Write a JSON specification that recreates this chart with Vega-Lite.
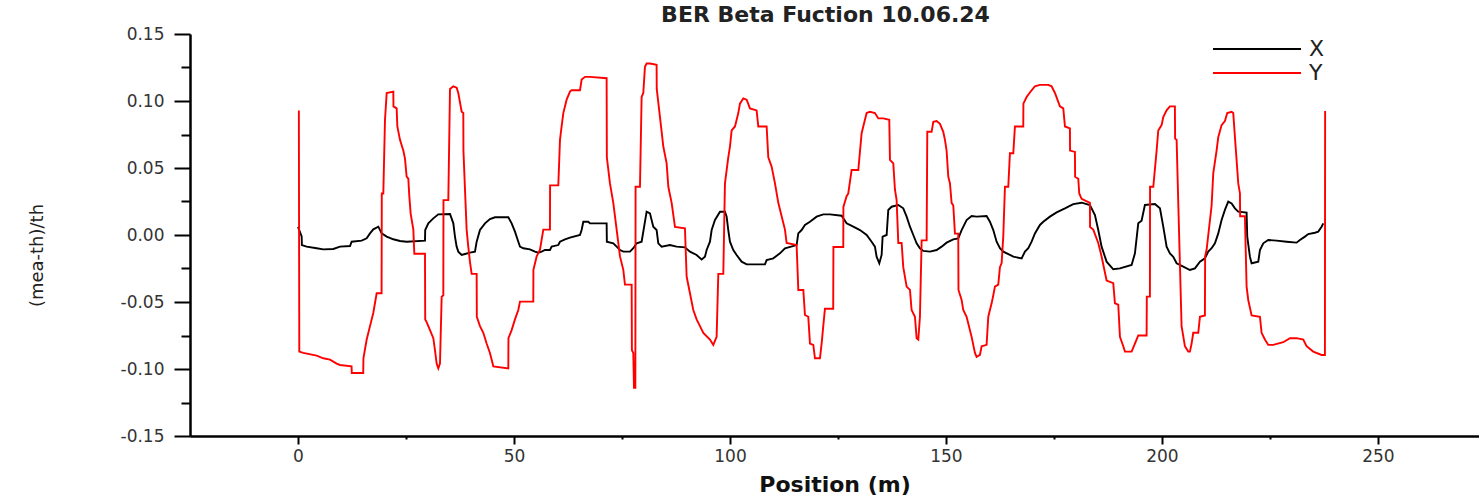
{
"$schema": "https://vega.github.io/schema/vega-lite/v6.json",
"width": 1289, "height": 402,
"autosize": {"type": "none"},
"padding": {"left": 190, "top": 34, "right": 0, "bottom": 59},
"background": "white",
"config": {"view": {"stroke": null}, "font": "DejaVu Sans"},
"title": {"text": "BER Beta Fuction 10.06.24", "fontSize": 22, "fontWeight": "bold", "font": "DejaVu Sans", "color": "#222", "anchor": "middle", "frame": "group", "offset": 8, "dx": -9, "dy": 10},
"data": {"values": [
{"s":"X","x":0.0,"y":0.006},{"s":"X","x":0.85,"y":-0.001},{"s":"X","x":0.9,"y":-0.0075},{"s":"X","x":2.0,"y":-0.0087},{"s":"X","x":4.32,"y":-0.0099},{"s":"X","x":5.86,"y":-0.0107},{"s":"X","x":8.18,"y":-0.0104},{"s":"X","x":9.72,"y":-0.0087},{"s":"X","x":12.04,"y":-0.0082},{"s":"X","x":12.42,"y":-0.005},{"s":"X","x":14.74,"y":-0.0042},{"s":"X","x":15.9,"y":-0.0025},{"s":"X","x":16.67,"y":0.0012},{"s":"X","x":17.44,"y":0.0042},{"s":"X","x":18.6,"y":0.0062},{"s":"X","x":19.37,"y":0.0012},{"s":"X","x":20.53,"y":-0.0012},{"s":"X","x":22.07,"y":-0.0032},{"s":"X","x":23.61,"y":-0.0045},{"s":"X","x":25.15,"y":-0.005},{"s":"X","x":29.4,"y":-0.0042},{"s":"X","x":29.45,"y":0.0037},{"s":"X","x":30.17,"y":0.0087},{"s":"X","x":31.33,"y":0.0124},{"s":"X","x":32.48,"y":0.0154},{"s":"X","x":35.19,"y":0.0157},{"s":"X","x":35.96,"y":0.0087},{"s":"X","x":36.34,"y":-0.0012},{"s":"X","x":36.73,"y":-0.0087},{"s":"X","x":37.11,"y":-0.0124},{"s":"X","x":37.89,"y":-0.0149},{"s":"X","x":38.66,"y":-0.0142},{"s":"X","x":39.81,"y":-0.0132},{"s":"X","x":40.97,"y":-0.0124},{"s":"X","x":41.36,"y":-0.005},{"s":"X","x":42.13,"y":0.0037},{"s":"X","x":43.29,"y":0.0087},{"s":"X","x":44.44,"y":0.0119},{"s":"X","x":45.6,"y":0.0132},{"s":"X","x":48.69,"y":0.0132},{"s":"X","x":49.46,"y":0.0087},{"s":"X","x":50.23,"y":0.0025},{"s":"X","x":51.0,"y":-0.005},{"s":"X","x":51.39,"y":-0.0087},{"s":"X","x":52.16,"y":-0.0099},{"s":"X","x":53.7,"y":-0.0107},{"s":"X","x":54.86,"y":-0.0124},{"s":"X","x":55.63,"y":-0.0132},{"s":"X","x":56.4,"y":-0.0124},{"s":"X","x":57.18,"y":-0.0112},{"s":"X","x":58.33,"y":-0.0112},{"s":"X","x":58.72,"y":-0.0087},{"s":"X","x":60.26,"y":-0.0075},{"s":"X","x":60.65,"y":-0.005},{"s":"X","x":61.81,"y":-0.0032},{"s":"X","x":62.96,"y":-0.002},{"s":"X","x":65.28,"y":0.0},{"s":"X","x":65.66,"y":0.0037},{"s":"X","x":66.05,"y":0.0099},{"s":"X","x":67.21,"y":0.0099},{"s":"X","x":67.59,"y":0.0087},{"s":"X","x":71.45,"y":0.0087},{"s":"X","x":71.5,"y":-0.005},{"s":"X","x":72.99,"y":-0.0062},{"s":"X","x":73.77,"y":-0.0087},{"s":"X","x":74.54,"y":-0.0112},{"s":"X","x":75.31,"y":-0.0124},{"s":"X","x":76.85,"y":-0.0124},{"s":"X","x":77.62,"y":-0.0099},{"s":"X","x":78.4,"y":-0.0062},{"s":"X","x":79.55,"y":-0.005},{"s":"X","x":79.94,"y":0.0025},{"s":"X","x":80.71,"y":0.0174},{"s":"X","x":81.48,"y":0.0162},{"s":"X","x":82.25,"y":0.0062},{"s":"X","x":83.02,"y":0.0037},{"s":"X","x":83.41,"y":-0.0062},{"s":"X","x":84.18,"y":-0.0087},{"s":"X","x":86.11,"y":-0.0075},{"s":"X","x":87.65,"y":-0.0087},{"s":"X","x":89.58,"y":-0.0092},{"s":"X","x":90.74,"y":-0.0124},{"s":"X","x":92.28,"y":-0.0149},{"s":"X","x":93.44,"y":-0.0182},{"s":"X","x":94.21,"y":-0.0162},{"s":"X","x":94.6,"y":-0.0112},{"s":"X","x":95.37,"y":-0.005},{"s":"X","x":95.76,"y":0.0037},{"s":"X","x":96.53,"y":0.0112},{"s":"X","x":97.69,"y":0.0174},{"s":"X","x":98.84,"y":0.0174},{"s":"X","x":99.23,"y":0.0137},{"s":"X","x":99.61,"y":0.0037},{"s":"X","x":100.0,"y":-0.005},{"s":"X","x":100.77,"y":-0.0112},{"s":"X","x":101.54,"y":-0.0149},{"s":"X","x":102.7,"y":-0.0199},{"s":"X","x":103.86,"y":-0.0219},{"s":"X","x":108.1,"y":-0.0219},{"s":"X","x":108.49,"y":-0.0187},{"s":"X","x":110.03,"y":-0.0174},{"s":"X","x":111.57,"y":-0.0137},{"s":"X","x":112.73,"y":-0.0099},{"s":"X","x":115.43,"y":-0.0075},{"s":"X","x":115.82,"y":0.0012},{"s":"X","x":116.59,"y":0.0037},{"s":"X","x":117.36,"y":0.0075},{"s":"X","x":118.52,"y":0.0099},{"s":"X","x":120.06,"y":0.0137},{"s":"X","x":121.6,"y":0.0154},{"s":"X","x":123.15,"y":0.0154},{"s":"X","x":125.85,"y":0.0144},{"s":"X","x":127.0,"y":0.0087},{"s":"X","x":128.55,"y":0.0062},{"s":"X","x":130.09,"y":0.0037},{"s":"X","x":131.64,"y":0.0},{"s":"X","x":132.79,"y":-0.005},{"s":"X","x":133.56,"y":-0.0087},{"s":"X","x":133.95,"y":-0.0162},{"s":"X","x":134.57,"y":-0.0211},{"s":"X","x":135.11,"y":-0.0149},{"s":"X","x":135.34,"y":-0.0012},{"s":"X","x":136.27,"y":0.0},{"s":"X","x":136.65,"y":0.0187},{"s":"X","x":137.42,"y":0.0211},{"s":"X","x":138.97,"y":0.0224},{"s":"X","x":140.12,"y":0.0199},{"s":"X","x":140.9,"y":0.0137},{"s":"X","x":141.67,"y":0.0062},{"s":"X","x":142.44,"y":0.0},{"s":"X","x":143.21,"y":-0.0062},{"s":"X","x":143.98,"y":-0.0099},{"s":"X","x":144.75,"y":-0.0119},{"s":"X","x":146.3,"y":-0.0124},{"s":"X","x":147.84,"y":-0.0112},{"s":"X","x":149.0,"y":-0.0087},{"s":"X","x":150.15,"y":-0.0057},{"s":"X","x":151.7,"y":-0.0032},{"s":"X","x":152.85,"y":-0.0025},{"s":"X","x":153.63,"y":0.0037},{"s":"X","x":154.78,"y":0.0112},{"s":"X","x":155.94,"y":0.0142},{"s":"X","x":157.1,"y":0.0137},{"s":"X","x":159.41,"y":0.0142},{"s":"X","x":160.18,"y":0.0099},{"s":"X","x":160.96,"y":0.0037},{"s":"X","x":161.73,"y":-0.005},{"s":"X","x":162.5,"y":-0.0099},{"s":"X","x":163.27,"y":-0.0124},{"s":"X","x":164.81,"y":-0.0149},{"s":"X","x":165.59,"y":-0.0162},{"s":"X","x":167.52,"y":-0.0174},{"s":"X","x":168.29,"y":-0.0124},{"s":"X","x":169.06,"y":-0.0099},{"s":"X","x":169.83,"y":-0.005},{"s":"X","x":170.6,"y":0.0012},{"s":"X","x":171.76,"y":0.0075},{"s":"X","x":172.53,"y":0.0099},{"s":"X","x":174.07,"y":0.0137},{"s":"X","x":175.62,"y":0.0169},{"s":"X","x":177.55,"y":0.0199},{"s":"X","x":179.47,"y":0.0231},{"s":"X","x":181.4,"y":0.0241},{"s":"X","x":183.33,"y":0.0224},{"s":"X","x":184.49,"y":0.0149},{"s":"X","x":185.26,"y":0.0037},{"s":"X","x":186.03,"y":-0.0087},{"s":"X","x":187.19,"y":-0.0199},{"s":"X","x":188.73,"y":-0.0256},{"s":"X","x":190.28,"y":-0.0249},{"s":"X","x":192.98,"y":-0.0224},{"s":"X","x":193.75,"y":-0.0137},{"s":"X","x":194.52,"y":0.0087},{"s":"X","x":195.29,"y":0.0107},{"s":"X","x":196.06,"y":0.0224},{"s":"X","x":198.38,"y":0.0231},{"s":"X","x":199.54,"y":0.0199},{"s":"X","x":200.31,"y":0.0062},{"s":"X","x":201.08,"y":-0.0087},{"s":"X","x":201.85,"y":-0.0137},{"s":"X","x":202.62,"y":-0.0162},{"s":"X","x":203.4,"y":-0.0211},{"s":"X","x":204.94,"y":-0.0236},{"s":"X","x":206.48,"y":-0.0261},{"s":"X","x":207.64,"y":-0.0249},{"s":"X","x":208.8,"y":-0.0199},{"s":"X","x":209.95,"y":-0.0174},{"s":"X","x":210.72,"y":-0.0124},{"s":"X","x":211.5,"y":-0.0099},{"s":"X","x":212.27,"y":-0.0062},{"s":"X","x":213.04,"y":0.0012},{"s":"X","x":213.81,"y":0.0112},{"s":"X","x":214.58,"y":0.0187},{"s":"X","x":215.35,"y":0.0249},{"s":"X","x":216.13,"y":0.0236},{"s":"X","x":216.9,"y":0.0199},{"s":"X","x":217.67,"y":0.0174},{"s":"X","x":219.6,"y":0.0167},{"s":"X","x":219.75,"y":-0.0012},{"s":"X","x":220.37,"y":-0.0162},{"s":"X","x":220.76,"y":-0.0211},{"s":"X","x":222.3,"y":-0.0199},{"s":"X","x":222.69,"y":-0.0112},{"s":"X","x":223.46,"y":-0.0062},{"s":"X","x":224.61,"y":-0.0037},{"s":"X","x":226.54,"y":-0.0042},{"s":"X","x":228.86,"y":-0.005},{"s":"X","x":231.17,"y":-0.0057},{"s":"X","x":231.94,"y":-0.0037},{"s":"X","x":233.1,"y":-0.0012},{"s":"X","x":233.87,"y":0.0007},{"s":"X","x":235.42,"y":0.0017},{"s":"X","x":236.19,"y":0.0025},{"s":"X","x":236.96,"y":0.0062},{"s":"X","x":237.35,"y":0.0087},
{"s":"Y","x":0.2,"y":0.093},{"s":"Y","x":0.3,"y":-0.087},{"s":"Y","x":1.23,"y":-0.088},{"s":"Y","x":4.32,"y":-0.09},{"s":"Y","x":5.86,"y":-0.092},{"s":"Y","x":7.41,"y":-0.093},{"s":"Y","x":8.95,"y":-0.096},{"s":"Y","x":9.72,"y":-0.097},{"s":"Y","x":12.4,"y":-0.098},{"s":"Y","x":12.45,"y":-0.103},{"s":"Y","x":15.1,"y":-0.103},{"s":"Y","x":15.15,"y":-0.092},{"s":"Y","x":15.9,"y":-0.078},{"s":"Y","x":16.67,"y":-0.068},{"s":"Y","x":17.44,"y":-0.058},{"s":"Y","x":18.21,"y":-0.0435},{"s":"Y","x":19.35,"y":-0.0435},{"s":"Y","x":19.4,"y":0.031},{"s":"Y","x":19.75,"y":0.031},{"s":"Y","x":20.14,"y":0.086},{"s":"Y","x":20.53,"y":0.106},{"s":"Y","x":22.07,"y":0.107},{"s":"Y","x":22.1,"y":0.096},{"s":"Y","x":22.84,"y":0.0945},{"s":"Y","x":23.0,"y":0.081},{"s":"Y","x":23.61,"y":0.071},{"s":"Y","x":24.38,"y":0.063},{"s":"Y","x":24.77,"y":0.057},{"s":"Y","x":25.15,"y":0.0435},{"s":"Y","x":25.54,"y":0.042},{"s":"Y","x":25.77,"y":0.029},{"s":"Y","x":26.08,"y":0.016},{"s":"Y","x":26.7,"y":0.004},{"s":"Y","x":26.93,"y":-0.014},{"s":"Y","x":29.4,"y":-0.014},{"s":"Y","x":29.45,"y":-0.063},{"s":"Y","x":29.78,"y":-0.065},{"s":"Y","x":30.56,"y":-0.071},{"s":"Y","x":31.33,"y":-0.077},{"s":"Y","x":31.71,"y":-0.086},{"s":"Y","x":32.1,"y":-0.096},{"s":"Y","x":32.48,"y":-0.0995},{"s":"Y","x":32.87,"y":-0.096},{"s":"Y","x":33.26,"y":-0.046},{"s":"Y","x":33.64,"y":-0.045},{"s":"Y","x":33.68,"y":0.026},{"s":"Y","x":34.8,"y":0.026},{"s":"Y","x":35.19,"y":0.109},{"s":"Y","x":35.96,"y":0.111},{"s":"Y","x":36.73,"y":0.11},{"s":"Y","x":37.11,"y":0.106},{"s":"Y","x":37.89,"y":0.092},{"s":"Y","x":38.27,"y":0.091},{"s":"Y","x":38.3,"y":0.063},{"s":"Y","x":38.66,"y":0.034},{"s":"Y","x":39.04,"y":0.004},{"s":"Y","x":39.43,"y":-0.009},{"s":"Y","x":39.81,"y":-0.02},{"s":"Y","x":40.2,"y":-0.029},{"s":"Y","x":41.36,"y":-0.029},{"s":"Y","x":41.4,"y":-0.061},{"s":"Y","x":42.13,"y":-0.068},{"s":"Y","x":42.9,"y":-0.073},{"s":"Y","x":43.67,"y":-0.081},{"s":"Y","x":44.44,"y":-0.088},{"s":"Y","x":45.22,"y":-0.098},{"s":"Y","x":48.69,"y":-0.0995},{"s":"Y","x":48.72,"y":-0.077},{"s":"Y","x":49.46,"y":-0.071},{"s":"Y","x":50.23,"y":-0.063},{"s":"Y","x":51.0,"y":-0.056},{"s":"Y","x":51.39,"y":-0.0497},{"s":"Y","x":54.47,"y":-0.0497},{"s":"Y","x":54.5,"y":-0.026},{"s":"Y","x":55.25,"y":-0.016},{"s":"Y","x":56.02,"y":-0.011},{"s":"Y","x":56.79,"y":0.004},{"s":"Y","x":58.33,"y":0.004},{"s":"Y","x":58.36,"y":0.037},{"s":"Y","x":60.26,"y":0.037},{"s":"Y","x":60.65,"y":0.071},{"s":"Y","x":61.03,"y":0.081},{"s":"Y","x":61.42,"y":0.091},{"s":"Y","x":62.19,"y":0.101},{"s":"Y","x":62.96,"y":0.107},{"s":"Y","x":63.35,"y":0.108},{"s":"Y","x":65.28,"y":0.108},{"s":"Y","x":65.66,"y":0.116},{"s":"Y","x":66.44,"y":0.118},{"s":"Y","x":67.59,"y":0.118},{"s":"Y","x":71.45,"y":0.117},{"s":"Y","x":71.5,"y":0.058},{"s":"Y","x":72.22,"y":0.0385},{"s":"Y","x":72.99,"y":0.024},{"s":"Y","x":73.77,"y":0.004},{"s":"Y","x":74.54,"y":-0.016},{"s":"Y","x":75.31,"y":-0.026},{"s":"Y","x":75.69,"y":-0.037},{"s":"Y","x":77.24,"y":-0.037},{"s":"Y","x":77.3,"y":-0.086},{"s":"Y","x":77.62,"y":-0.088},{"s":"Y","x":77.78,"y":-0.114},{"s":"Y","x":78.1,"y":-0.114},{"s":"Y","x":78.15,"y":0.036},{"s":"Y","x":79.17,"y":0.036},{"s":"Y","x":79.55,"y":0.103},{"s":"Y","x":79.94,"y":0.106},{"s":"Y","x":80.32,"y":0.1256},{"s":"Y","x":80.71,"y":0.128},{"s":"Y","x":81.48,"y":0.128},{"s":"Y","x":83.02,"y":0.127},{"s":"Y","x":83.05,"y":0.109},{"s":"Y","x":83.8,"y":0.088},{"s":"Y","x":84.57,"y":0.066},{"s":"Y","x":85.34,"y":0.0535},{"s":"Y","x":85.73,"y":0.036},{"s":"Y","x":86.5,"y":0.024},{"s":"Y","x":87.27,"y":0.006},{"s":"Y","x":89.58,"y":0.005},{"s":"Y","x":89.97,"y":-0.031},{"s":"Y","x":90.74,"y":-0.0435},{"s":"Y","x":91.51,"y":-0.056},{"s":"Y","x":92.28,"y":-0.063},{"s":"Y","x":93.06,"y":-0.068},{"s":"Y","x":93.83,"y":-0.073},{"s":"Y","x":95.37,"y":-0.078},{"s":"Y","x":96.14,"y":-0.082},{"s":"Y","x":96.91,"y":-0.076},{"s":"Y","x":97.3,"y":-0.029},{"s":"Y","x":98.46,"y":-0.029},{"s":"Y","x":98.84,"y":0.0385},{"s":"Y","x":99.61,"y":0.058},{"s":"Y","x":100.0,"y":0.066},{"s":"Y","x":100.39,"y":0.078},{"s":"Y","x":101.16,"y":0.081},{"s":"Y","x":101.93,"y":0.091},{"s":"Y","x":102.31,"y":0.098},{"s":"Y","x":103.09,"y":0.102},{"s":"Y","x":103.86,"y":0.101},{"s":"Y","x":104.63,"y":0.0945},{"s":"Y","x":106.17,"y":0.093},{"s":"Y","x":106.56,"y":0.081},{"s":"Y","x":108.49,"y":0.081},{"s":"Y","x":108.87,"y":0.058},{"s":"Y","x":109.65,"y":0.051},{"s":"Y","x":110.42,"y":0.0385},{"s":"Y","x":111.19,"y":0.024},{"s":"Y","x":111.96,"y":0.014},{"s":"Y","x":112.73,"y":0.004},{"s":"Y","x":113.12,"y":-0.006},{"s":"Y","x":115.43,"y":-0.0075},{"s":"Y","x":115.82,"y":-0.041},{"s":"Y","x":116.98,"y":-0.041},{"s":"Y","x":117.36,"y":-0.0597},{"s":"Y","x":118.13,"y":-0.061},{"s":"Y","x":118.52,"y":-0.081},{"s":"Y","x":119.29,"y":-0.082},{"s":"Y","x":119.68,"y":-0.092},{"s":"Y","x":120.83,"y":-0.092},{"s":"Y","x":121.22,"y":-0.081},{"s":"Y","x":121.6,"y":-0.068},{"s":"Y","x":121.99,"y":-0.055},{"s":"Y","x":123.9,"y":-0.055},{"s":"Y","x":123.95,"y":-0.009},{"s":"Y","x":126.23,"y":-0.009},{"s":"Y","x":126.26,"y":0.021},{"s":"Y","x":127.0,"y":0.029},{"s":"Y","x":127.39,"y":0.031},{"s":"Y","x":128.16,"y":0.0485},{"s":"Y","x":129.71,"y":0.0485},{"s":"Y","x":130.48,"y":0.076},{"s":"Y","x":130.86,"y":0.081},{"s":"Y","x":131.64,"y":0.091},{"s":"Y","x":132.41,"y":0.092},{"s":"Y","x":133.56,"y":0.091},{"s":"Y","x":134.34,"y":0.087},{"s":"Y","x":135.49,"y":0.087},{"s":"Y","x":136.88,"y":0.086},{"s":"Y","x":137.04,"y":0.056},{"s":"Y","x":137.81,"y":0.0535},{"s":"Y","x":138.19,"y":0.034},{"s":"Y","x":138.58,"y":0.026},{"s":"Y","x":138.97,"y":-0.006},{"s":"Y","x":139.74,"y":-0.006},{"s":"Y","x":140.12,"y":-0.024},{"s":"Y","x":140.9,"y":-0.0385},{"s":"Y","x":141.67,"y":-0.041},{"s":"Y","x":142.05,"y":-0.056},{"s":"Y","x":142.82,"y":-0.061},{"s":"Y","x":143.21,"y":-0.077},{"s":"Y","x":143.6,"y":-0.078},{"s":"Y","x":143.98,"y":-0.061},{"s":"Y","x":144.37,"y":-0.004},{"s":"Y","x":145.53,"y":-0.004},{"s":"Y","x":145.68,"y":0.077},{"s":"Y","x":146.68,"y":0.077},{"s":"Y","x":147.07,"y":0.0845},{"s":"Y","x":147.84,"y":0.085},{"s":"Y","x":148.61,"y":0.083},{"s":"Y","x":149.38,"y":0.077},{"s":"Y","x":149.77,"y":0.071},{"s":"Y","x":150.15,"y":0.063},{"s":"Y","x":150.54,"y":0.0435},{"s":"Y","x":150.93,"y":0.0385},{"s":"Y","x":151.31,"y":0.024},{"s":"Y","x":151.7,"y":0.022},{"s":"Y","x":152.08,"y":0.001},{"s":"Y","x":152.85,"y":0.001},{"s":"Y","x":152.9,"y":-0.041},{"s":"Y","x":153.63,"y":-0.0485},{"s":"Y","x":154.01,"y":-0.056},{"s":"Y","x":154.78,"y":-0.061},{"s":"Y","x":155.17,"y":-0.066},{"s":"Y","x":155.94,"y":-0.076},{"s":"Y","x":156.71,"y":-0.088},{"s":"Y","x":157.1,"y":-0.091},{"s":"Y","x":157.87,"y":-0.0895},{"s":"Y","x":158.26,"y":-0.083},{"s":"Y","x":159.41,"y":-0.082},{"s":"Y","x":159.8,"y":-0.061},{"s":"Y","x":160.57,"y":-0.051},{"s":"Y","x":160.96,"y":-0.045},{"s":"Y","x":161.34,"y":-0.0385},{"s":"Y","x":162.11,"y":-0.037},{"s":"Y","x":162.5,"y":-0.024},{"s":"Y","x":162.89,"y":-0.021},{"s":"Y","x":163.27,"y":-0.001},{"s":"Y","x":163.66,"y":0.036},{"s":"Y","x":164.43,"y":0.036},{"s":"Y","x":164.81,"y":0.061},{"s":"Y","x":165.59,"y":0.061},{"s":"Y","x":165.97,"y":0.081},{"s":"Y","x":167.9,"y":0.081},{"s":"Y","x":167.93,"y":0.098},{"s":"Y","x":168.67,"y":0.103},{"s":"Y","x":169.83,"y":0.108},{"s":"Y","x":170.6,"y":0.111},{"s":"Y","x":171.76,"y":0.112},{"s":"Y","x":173.69,"y":0.112},{"s":"Y","x":174.46,"y":0.111},{"s":"Y","x":175.23,"y":0.106},{"s":"Y","x":176.39,"y":0.096},{"s":"Y","x":177.16,"y":0.0945},{"s":"Y","x":177.55,"y":0.081},{"s":"Y","x":178.7,"y":0.0796},{"s":"Y","x":178.73,"y":0.063},{"s":"Y","x":179.86,"y":0.062},{"s":"Y","x":179.9,"y":0.0435},{"s":"Y","x":180.63,"y":0.042},{"s":"Y","x":180.86,"y":0.031},{"s":"Y","x":181.4,"y":0.027},{"s":"Y","x":183.33,"y":0.024},{"s":"Y","x":183.36,"y":0.006},{"s":"Y","x":184.1,"y":0.004},{"s":"Y","x":185.26,"y":-0.006},{"s":"Y","x":186.03,"y":-0.016},{"s":"Y","x":187.19,"y":-0.034},{"s":"Y","x":188.73,"y":-0.036},{"s":"Y","x":189.12,"y":-0.051},{"s":"Y","x":189.89,"y":-0.052},{"s":"Y","x":190.28,"y":-0.076},{"s":"Y","x":191.05,"y":-0.083},{"s":"Y","x":191.44,"y":-0.087},{"s":"Y","x":192.98,"y":-0.087},{"s":"Y","x":193.75,"y":-0.081},{"s":"Y","x":194.52,"y":-0.075},{"s":"Y","x":196.45,"y":-0.075},{"s":"Y","x":196.5,"y":-0.046},{"s":"Y","x":197.22,"y":-0.046},{"s":"Y","x":197.25,"y":0.036},{"s":"Y","x":198.0,"y":0.036},{"s":"Y","x":198.77,"y":0.063},{"s":"Y","x":199.15,"y":0.078},{"s":"Y","x":199.92,"y":0.082},{"s":"Y","x":200.31,"y":0.088},{"s":"Y","x":201.08,"y":0.093},{"s":"Y","x":201.85,"y":0.096},{"s":"Y","x":203.0,"y":0.096},{"s":"Y","x":203.05,"y":0.072},{"s":"Y","x":203.4,"y":0.071},{"s":"Y","x":203.78,"y":0.024},{"s":"Y","x":204.55,"y":-0.068},{"s":"Y","x":205.32,"y":-0.083},{"s":"Y","x":206.09,"y":-0.087},{"s":"Y","x":206.48,"y":-0.087},{"s":"Y","x":206.87,"y":-0.081},{"s":"Y","x":207.25,"y":-0.073},{"s":"Y","x":208.41,"y":-0.073},{"s":"Y","x":208.8,"y":-0.061},{"s":"Y","x":209.95,"y":-0.06},{"s":"Y","x":210.0,"y":-0.016},{"s":"Y","x":210.34,"y":-0.011},{"s":"Y","x":211.5,"y":0.022},{"s":"Y","x":211.88,"y":0.046},{"s":"Y","x":212.65,"y":0.063},{"s":"Y","x":213.04,"y":0.073},{"s":"Y","x":213.81,"y":0.082},{"s":"Y","x":214.58,"y":0.085},{"s":"Y","x":215.12,"y":0.091},{"s":"Y","x":216.13,"y":0.092},{"s":"Y","x":216.51,"y":0.091},{"s":"Y","x":216.9,"y":0.073},{"s":"Y","x":217.67,"y":0.0385},{"s":"Y","x":218.06,"y":0.031},{"s":"Y","x":218.1,"y":0.014},{"s":"Y","x":219.21,"y":0.014},{"s":"Y","x":219.6,"y":-0.0385},{"s":"Y","x":219.98,"y":-0.0485},{"s":"Y","x":220.76,"y":-0.06},{"s":"Y","x":222.69,"y":-0.061},{"s":"Y","x":223.07,"y":-0.073},{"s":"Y","x":223.84,"y":-0.078},{"s":"Y","x":224.61,"y":-0.082},{"s":"Y","x":225.77,"y":-0.082},{"s":"Y","x":228.09,"y":-0.08},{"s":"Y","x":229.63,"y":-0.077},{"s":"Y","x":231.17,"y":-0.077},{"s":"Y","x":232.72,"y":-0.078},{"s":"Y","x":233.49,"y":-0.083},{"s":"Y","x":235.03,"y":-0.087},{"s":"Y","x":236.96,"y":-0.0895},{"s":"Y","x":237.73,"y":-0.0895},{"s":"Y","x":237.78,"y":0.0925}
]},
"mark": {"type": "line", "strokeWidth": 1.9, "clip": true},
"encoding": {
"x": {"field": "x", "type": "quantitative",
 "scale": {"domain": [-25, 273.4], "nice": false, "zero": false},
 "axis": {"title": "Position (m)", "values": [0,25,50,75,100,125,150,175,200,225,250],
  "labelExpr": "datum.value % 50 == 0 ? datum.label : ''", "format": "d",
  "tickSize": {"condition": {"test": "datum.value % 50 != 0", "value": 3}, "value": 8},
  "tickWidth": 2, "tickColor": "black", "domainColor": "black", "domainWidth": 2.5,
  "labelFontSize": 17, "labelColor": "#333", "labelPadding": 4, "labelFont": "DejaVu Sans", "grid": false, "labelOverlap": false,
  "titleFontSize": 22, "titleFontWeight": "bold", "titleColor": "#111", "titleFont": "DejaVu Sans", "titleY": 55, "titleBaseline": "alphabetic"}},
"y": {"field": "y", "type": "quantitative",
 "scale": {"domain": [-0.15, 0.15], "nice": false, "zero": false},
 "axis": {"title": "(mea-th)/th", "values": [-0.15,-0.125,-0.1,-0.075,-0.05,-0.025,0,0.025,0.05,0.075,0.1,0.125,0.15],
  "labelExpr": "abs(round(datum.value*1000)) % 50 == 0 ? replace(format(datum.value, '.2f'), '\u2212', '-') : ''",
  "tickSize": {"condition": {"test": "abs(round(datum.value*1000)) % 50 != 0", "value": 9}, "value": 16},
  "tickWidth": 2, "tickColor": "black", "domainColor": "black", "domainWidth": 2.5,
  "labelFontSize": 17, "labelColor": "#333", "labelPadding": 10, "labelFont": "DejaVu Sans", "grid": false, "labelOverlap": false,
  "titleFontSize": 18, "titleFontWeight": "normal", "titleColor": "#222", "titleFont": "DejaVu Sans", "titleX": -153, "titleY": 221, "titleBaseline": "middle", "titleAlign": "center"}},
"color": {"field": "s", "type": "nominal",
 "scale": {"domain": ["X", "Y"], "range": ["#000000", "#ff0000"]},
 "legend": {"orient": "none", "legendX": 1055, "legendY": 3, "title": null, "symbolType": "M-4,0H4", "symbolSize": 484, "symbolStrokeWidth": 2, "symbolFillColor": "transparent", "labelFontSize": 22, "labelFont": "DejaVu Sans", "labelColor": "#222", "padding": 0, "labelOffset": 40, "rowPadding": 1}}
}
}
